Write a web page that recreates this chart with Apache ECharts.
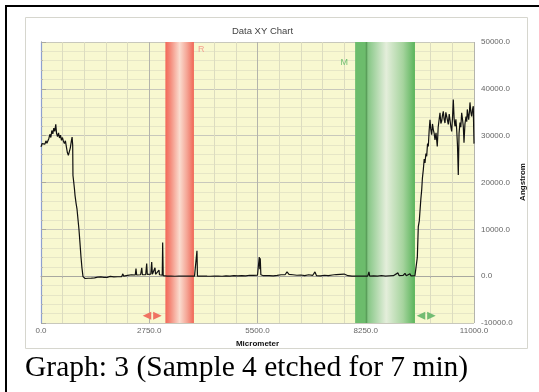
<!DOCTYPE html>
<html><head><meta charset="utf-8">
<script src="https://cdn.jsdelivr.net/npm/echarts@6/dist/echarts.min.js"></script>
<style>html,body{margin:0;padding:0;background:#fff}#c{width:539px;height:392px}</style>
</head><body><div id="c"></div>
<script>
// ---- data (Micrometer, Angstrom) ----
const segPlateauL = [[0,27600],[25,28300],[50,27900],[75,28600],[100,28200],[125,28900],[150,28400],[175,28700],[200,29400],[225,30300],[250,29600],[275,31100],[300,30400],[325,31600],[350,30900],[375,32400],[395,30500],[420,29800],[445,30600],[470,29500],[495,30100],[520,29000],[545,29600],[570,28800],[595,28300],[620,28900],[645,27600],[670,26400],[695,25800],[720,26600],[745,27400],[770,28800],[790,29700]];
const segDrop = [[805,28000],[812,21500],[830,20200],[850,18600],[865,17200],[890,15600],[915,14300],[940,12100],[965,9900],[990,7100],[1016,4100],[1040,1800],[1067,-100],[1090,-400]];
const segBaseL = [[1120,-500],[1160,-350],[1200,-450],[1240,-300],[1280,-420],[1320,-250],[1360,-380],[1400,-300],[1440,-200],[1480,-350],[1520,-150],[1560,-300],[1600,-250],[1640,-100],[1680,-250],[1720,-150],[1760,-60],[1790,300],[1810,-100],[1850,-150],[1900,-50],[1950,-120],[2000,0],[2050,-80],[2080,500],[2100,0],[2150,50],[2200,150],[2250,100],[2300,300],[2350,200],[2395,250],[2413,1600],[2430,250],[2480,350],[2530,300],[2550,400],[2560,1800],[2575,350],[2620,450],[2660,300],[2675,500],[2685,2700],[2700,400],[2750,350],[2790,450],[2812,3000],[2830,400],[2870,500],[2896,1800],[2910,400],[2950,350],[2997,1300],[3010,300],[3050,250],[3080,200],[3091,7200],[3105,100],[3150,50]];
const segMid = [[3200,0],[3300,20],[3400,-20],[3500,0],[3600,10],[3700,-10],[3800,0],[3900,20],[3950,0],[3962,5400],[3975,0],[4050,0],[4150,30],[4200,200],[4220,0],[4300,-20],[4400,0],[4500,20],[4600,-20],[4700,50],[4800,0],[4900,100],[5000,50],[5100,120],[5200,80],[5300,200],[5400,150],[5450,300],[5500,200],[5530,400],[5545,4100],[5560,1500],[5570,3800],[5585,300],[5650,100],[5700,0],[5800,100],[5900,50],[6000,150],[6100,300],[6150,600],[6200,300],[6250,900],[6300,400],[6350,700],[6400,300],[6450,500],[6500,200],[6600,250],[6700,100],[6800,300],[6900,150],[6960,900],[7000,100],[7100,50],[7200,200],[7300,100],[7400,250],[7500,350],[7550,200],[7600,400],[7650,250],[7700,450],[7750,200],[7800,100],[7900,0],[8000,0]];
const segBaseR = [[8100,0],[8200,20],[8300,0],[8331,900],[8350,0],[8450,50],[8550,0],[8650,100],[8750,0],[8850,50],[8950,100],[9000,300],[9068,700],[9100,100],[9200,150],[9246,600],[9280,100],[9373,500],[9400,50],[9500,100],[9540,300]];
const segRise = [[9560,4000],[9585,10600],[9610,11800],[9628,12000],[9650,16500],[9671,18400],[9690,21000],[9712,22700],[9735,25000],[9755,24200],[9778,26200],[9798,25600],[9820,28300],[9839,27700],[9860,31000],[9882,33400],[9900,31500],[9925,30200],[9945,32500],[9966,31300],[9988,30500],[10009,29100],[10035,30600],[10067,27700],[10090,31800],[10115,33500],[10136,34900],[10158,32600],[10179,33100],[10200,34400],[10220,35200],[10240,33600],[10263,32700],[10285,35000],[10306,34100],[10325,33300],[10347,32400],[10370,34600],[10390,33400],[10410,32000],[10433,30900],[10455,34000],[10474,37700],[10495,33600],[10517,32000],[10540,33500],[10560,31300],[10580,28000],[10601,21600],[10620,30500],[10644,32800],[10665,31800],[10687,34900],[10708,33500],[10728,32000],[10746,28500],[10770,32500],[10797,34100],[10815,33000],[10830,35600],[10850,34300],[10865,33400],[10885,35200],[10898,37100],[10920,35000],[10941,34100],[10960,35500],[10982,36300],[10992,31500],[11000,28300]];

const xRange = [0, 11000];
const xInterval = 2750;
const yRange = [-10000, 50000];
const yInterval = 10000;
const bandR = [3160, 3885];
const bandM = [7980, 9500];
const bandLabels = ['R', 'M'];
const arrowR = [2825, -8450];
const arrowM = [9786, -8450];
const titleText = 'Data XY Chart';
const xName = 'Micrometer';
const yName = 'Angstrom';
const caption = 'Graph: 3 (Sample 4 etched for 7 min)';

const seriesData = [].concat(segPlateauL, segDrop, segBaseL, segMid, segBaseR, segRise);

const chart = echarts.init(document.getElementById('c'), null, {renderer: 'canvas'});
const FONT = 'Liberation Sans, Arial, sans-serif';
const arrowPath = 'path://M0,5 L9,0 L9,10 Z M11,0 L20,5 L11,10 Z';

chart.setOption({
  animation: false,
  backgroundColor: '#ffffff',
  title: {
    text: titleText, left: 257.5, top: 21, textAlign: 'center',
    textStyle: {fontFamily: FONT, fontSize: 9.5, fontWeight: 'normal', color: '#444'}
  },
  graphic: [
    {type: 'rect', z: -100, shape: {x: 25.5, y: 17.5, width: 502, height: 331}, style: {fill: '#fff', stroke: '#d6d6ce', lineWidth: 1}},
    {type: 'rect', z: 100, shape: {x: 5, y: 5, width: 2, height: 387}, style: {fill: '#000'}},
    {type: 'rect', z: 100, shape: {x: 5, y: 5, width: 534, height: 2}, style: {fill: '#000'}},
    {type: 'text', z: 100, left: 25, top: 353, style: {text: caption, font: '29.5px "Liberation Serif", "Times New Roman", serif', fill: '#000'}},
    {type: 'text', z: 100, x: 523, y: 182, rotation: Math.PI / 2,
     style: {text: yName, font: 'bold 8px Liberation Sans, Arial, sans-serif', fill: '#111', align: 'center', verticalAlign: 'middle'}}
  ],
  grid: {left: 41, right: 65, top: 42, bottom: 69, show: true, backgroundColor: '#f8f8d0', borderWidth: 0},
  xAxis: {
    type: 'value', min: xRange[0], max: xRange[1], interval: xInterval,
    name: xName, nameLocation: 'middle', nameGap: 16,
    nameTextStyle: {fontFamily: FONT, fontSize: 8, fontWeight: 'bold', color: '#111'},
    axisLine: {lineStyle: {color: '#a8a8a0'}},
    axisTick: {show: true, length: 4, lineStyle: {color: '#a8a8a0'}},
    minorTick: {show: true, splitNumber: 5, length: 2, lineStyle: {color: '#b8b8b0'}},
    axisLabel: {fontFamily: FONT, fontSize: 8, color: '#666', margin: 4, formatter: v => v.toFixed(1)},
    splitLine: {show: true, lineStyle: {color: '#b4b4ac', width: 1}},
    minorSplitLine: {show: true, lineStyle: {color: '#dcdcc0', width: 1}}
  },
  yAxis: [{
    type: 'value', position: 'right', min: yRange[0], max: yRange[1], interval: yInterval,
    axisLine: {show: true, lineStyle: {color: '#a8a8a0'}},
    axisTick: {show: true, length: 5, lineStyle: {color: '#a8a8a0'}},
    minorTick: {show: true, splitNumber: 5, length: 2, lineStyle: {color: '#b8b8b0'}},
    axisLabel: {fontFamily: FONT, fontSize: 8, color: '#666', margin: 7, formatter: v => v.toFixed(1)},
    splitLine: {show: true, lineStyle: {color: '#c8c8bc', width: 1}},
    minorSplitLine: {show: true, lineStyle: {color: '#e6e6c6', width: 1}}
  }, {
    type: 'value', position: 'left', min: yRange[0], max: yRange[1], interval: yInterval,
    axisLine: {show: true, lineStyle: {color: '#8ea0d0', width: 1.2}},
    axisTick: {show: false}, axisLabel: {show: false}, splitLine: {show: false}
  }],
  series: [{
    type: 'line', yAxisIndex: 0, data: seriesData, showSymbol: false, symbol: 'none',
    lineStyle: {color: '#111', width: 1.2}, silent: true, z: 5,
    markArea: {
      silent: true,
      data: [
        [{xAxis: bandR[0], yAxis: yRange[1],
          itemStyle: {color: {type: 'linear', x: 0, y: 0, x2: 1, y2: 0, colorStops: [
            {offset: 0, color: '#f26858'}, {offset: 0.18, color: '#f48c7c'}, {offset: 0.5, color: '#fadccf'},
            {offset: 0.75, color: '#f5a696'}, {offset: 1, color: '#f06656'}]}},
          label: {show: true, formatter: bandLabels[0], position: ['100%', 0], offset: [4, 3], color: '#f3a090', fontFamily: FONT, fontSize: 9}},
         {xAxis: bandR[1], yAxis: yRange[0]}],
        [{xAxis: bandM[0], yAxis: yRange[1],
          itemStyle: {color: {type: 'linear', x: 0, y: 0, x2: 1, y2: 0, colorStops: [
            {offset: 0, color: '#6cbc6c'}, {offset: 0.17, color: '#6cbc6c'}, {offset: 0.18, color: '#5a9e5a'},
            {offset: 0.2, color: '#5a9e5a'}, {offset: 0.21, color: '#84c684'}, {offset: 0.52, color: '#e4eedb'},
            {offset: 0.8, color: '#a6d49e'}, {offset: 1, color: '#5ab45a'}]}},
          label: {show: true, formatter: bandLabels[1], position: [0, 0], align: 'right', offset: [-7, 16], color: '#72c072', fontFamily: FONT, fontSize: 9}},
         {xAxis: bandM[1], yAxis: yRange[0]}]
      ]
    },
    markPoint: {
      silent: true, symbol: arrowPath, symbolSize: [19, 8], label: {show: false},
      data: [
        {coord: arrowR, itemStyle: {color: '#f07262'}},
        {coord: arrowM, itemStyle: {color: '#72bc72'}}
      ]
    }
  }]
});
</script></body></html>
